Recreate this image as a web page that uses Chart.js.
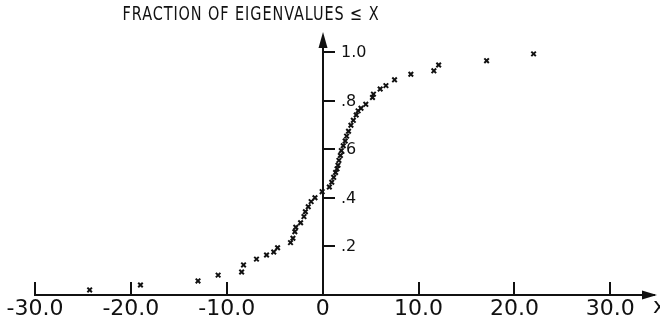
<!DOCTYPE html>
<html><head><meta charset="utf-8">
<script src="https://cdn.jsdelivr.net/npm/chart.js@4/dist/chart.umd.min.js"></script>
<style>html,body{margin:0;padding:0;background:#fff;}canvas{display:block}</style>
</head><body>
<canvas id="c" width="660" height="323"></canvas>
<script>
const titleText = "FRACTION OF EIGENVALUES \u2264 X";
const axisLabelX = "x";
const eigenvalues = [-24.3, -19.0, -13.0, -10.9, -8.45, -8.25, -6.9, -5.85, -5.1, -4.7,
  -3.35, -3.1, -2.9, -2.8, -2.3, -1.95, -1.8, -1.5, -1.2, -0.8, -0.05,
  0.7, 0.95, 1.15, 1.35, 1.5, 1.6, 1.7, 1.85, 1.95, 2.15, 2.35, 2.5, 2.7, 2.95, 3.2, 3.5,
  3.7, 4.0, 4.5, 5.2, 5.3, 6.0, 6.6, 7.5, 9.2, 11.6, 12.1, 17.1, 22.0];
const fractions = [0.021, 0.041, 0.058, 0.082, 0.095, 0.124, 0.148, 0.165, 0.177, 0.195,
  0.216, 0.234, 0.261, 0.279, 0.298, 0.323, 0.343, 0.364, 0.385, 0.401, 0.426,
  0.445, 0.465, 0.485, 0.505, 0.52, 0.535, 0.555, 0.575, 0.595, 0.615, 0.635, 0.655, 0.675, 0.70, 0.72, 0.742,
  0.759, 0.770, 0.786, 0.814, 0.828, 0.849, 0.863, 0.887, 0.910, 0.924, 0.948, 0.966, 0.994];
const xTicks = [-30, -20, -10, 0, 10, 20, 30];
const xTickLabels = ["-30.0", "-20.0", "-10.0", "0", "10.0", "20.0", "30.0"];
const yTicks = [0.2, 0.4, 0.6, 0.8, 1.0];
const yTickLabels = [".2", ".4", ".6", ".8", "1.0"];

const INK = '#111';
const axesPlugin = {
  id: 'axesDraw',
  afterDraw(chart) {
    const {ctx, scales: {x, y}} = chart;
    const x0 = x.getPixelForValue(0), y0 = y.getPixelForValue(0);
    ctx.save();
    ctx.strokeStyle = INK; ctx.fillStyle = INK; ctx.lineWidth = 2;
    xTicks.forEach(v => {
      if (v === 0) return;
      const px = Math.round(x.getPixelForValue(v));
      ctx.beginPath(); ctx.moveTo(px, y0); ctx.lineTo(px, y0 - 13); ctx.stroke();
    });
    const xEnd = x.getPixelForValue(x.max);
    ctx.beginPath(); ctx.moveTo(xEnd + 3, y0); ctx.lineTo(xEnd - 12, y0 - 4.5); ctx.lineTo(xEnd - 12, y0 + 4.5); ctx.closePath(); ctx.fill();
    const yTop = y.getPixelForValue(y.max);
    const xa = Math.round(x0);
    ctx.beginPath(); ctx.moveTo(xa, y0); ctx.lineTo(xa, yTop + 8); ctx.stroke();
    ctx.beginPath(); ctx.moveTo(xa, yTop - 1); ctx.lineTo(xa - 4.5, yTop + 15); ctx.lineTo(xa + 4.5, yTop + 15); ctx.closePath(); ctx.fill();
    ctx.font = '16px "DejaVu Sans"';
    ctx.textAlign = 'left'; ctx.textBaseline = 'middle';
    yTicks.forEach((v, i) => {
      const py = Math.round(y.getPixelForValue(v));
      ctx.beginPath(); ctx.moveTo(xa, py); ctx.lineTo(xa + 12, py); ctx.stroke();
      ctx.fillText(yTickLabels[i], xa + 18, py + 1);
    });
    ctx.font = '22px "DejaVu Sans"';
    ctx.fillText(axisLabelX, 653, y0 + 12);
    ctx.font = '19px "DejaVu Sans"';
    ctx.textAlign = 'center';
    ctx.translate(251, 15);
    ctx.scale(0.76, 1);
    if ('letterSpacing' in ctx) ctx.letterSpacing = '1.2px';
    ctx.fillText(titleText, 0, 0);
    ctx.restore();
  }
};

new Chart(document.getElementById('c'), {
  type: 'scatter',
  data: {
    datasets: [{
      data: eigenvalues.map((v, i) => ({x: v, y: fractions[i]})),
      pointStyle: 'crossRot',
      radius: 3.2,
      borderWidth: 2,
      borderColor: INK,
      backgroundColor: INK,
      showLine: false,
      clip: false
    }]
  },
  options: {
    responsive: false,
    animation: false,
    devicePixelRatio: 1,
    layout: {padding: {left: 35, right: 2, top: 33, bottom: 0}},
    plugins: {legend: {display: false}, tooltip: {enabled: false}, title: {display: false}},
    scales: {
      x: {
        type: 'linear', position: 'bottom', min: -30, max: 34.56,
        afterBuildTicks: s => { s.ticks = xTicks.map(v => ({value: v})); },
        afterFit: s => { s.height = 28; },
        grid: {display: false, drawTicks: false},
        border: {display: true, color: INK, width: 2},
        ticks: {
          autoSkip: false, maxRotation: 0, minRotation: 0, padding: 1, color: INK,
          font: {family: 'DejaVu Sans', size: 22},
          callback: (v, i) => xTickLabels[i]
        }
      },
      y: {type: 'linear', display: false, min: 0, max: 1.08}
    }
  },
  plugins: [axesPlugin]
});
</script>
</body></html>
